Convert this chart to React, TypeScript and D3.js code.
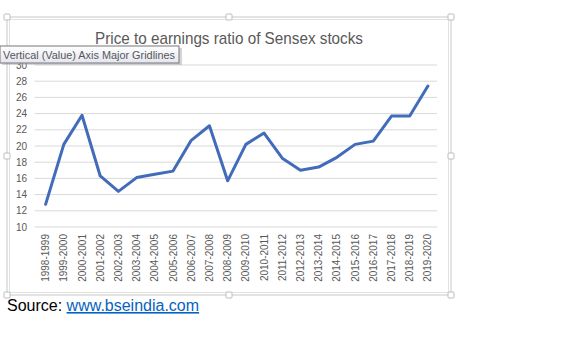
import * as d3 from "d3";

const periods = [
  "1998-1999", "1999-2000", "2000-2001", "2001-2002", "2002-2003", "2003-2004",
  "2004-2005", "2005-2006", "2006-2007", "2007-2008", "2008-2009", "2009-2010",
  "2010-2011", "2011-2012", "2012-2013", "2013-2014", "2014-2015", "2015-2016",
  "2016-2017", "2017-2018", "2018-2019", "2019-2020",
];
const peRatio = [
  12.8, 20.2, 23.8, 16.3, 14.4, 16.1, 16.5, 16.9, 20.7, 22.5, 15.7, 20.2,
  21.6, 18.5, 17.0, 17.4, 18.6, 20.2, 20.6, 23.7, 23.7, 27.4,
];
const yTicks = [10, 12, 14, 16, 18, 20, 22, 24, 26, 28, 30];

const W = 570;
const H = 351;
const plot = { left: 36.5, right: 437, top: 65, bottom: 227 };
const frame = { x0: 7, y0: 17, x1: 451, y1: 295 };

const App = () => {
  const x = d3
    .scalePoint<string>()
    .domain(periods)
    .range([plot.left, plot.right])
    .padding(0.5);
  const y = d3.scaleLinear().domain([10, 30]).range([plot.bottom, plot.top]);

  const line = d3
    .line<number>()
    .x((_, i) => x(periods[i]) as number)
    .y((d) => y(d));

  const midX = (frame.x0 + frame.x1) / 2;
  const midY = (frame.y0 + frame.y1) / 2;
  const handles: [number, number][] = [];
  [frame.x0, midX, frame.x1].forEach((hx) =>
    [frame.y0, midY, frame.y1].forEach((hy) => {
      if (hx === midX && hy === midY) return;
      handles.push([hx, hy]);
    })
  );

  const font = "'Liberation Sans', Arial, sans-serif";

  return (
    <svg
      width={W}
      height={H}
      viewBox={`0 0 ${W} ${H}`}
      style={{ position: "absolute", left: 0, top: 0, background: "#fff" }}
    >
      <defs>
        <linearGradient id="tipFill" x1="0" y1="0" x2="0" y2="1">
          <stop offset="0" stopColor="#ffffff" />
          <stop offset="1" stopColor="#e4e5f0" />
        </linearGradient>
      </defs>

      {/* chart frame (selected) */}
      <rect
        x={frame.x0}
        y={frame.y0}
        width={frame.x1 - frame.x0}
        height={frame.y1 - frame.y0}
        fill="#fff"
        stroke="#c8c8c8"
        strokeWidth={1}
      />
      <rect
        x={frame.x0 + 2.5}
        y={frame.y0 + 2.5}
        width={frame.x1 - frame.x0 - 5}
        height={frame.y1 - frame.y0 - 5}
        fill="none"
        stroke="#e2e2e2"
        strokeWidth={1}
      />
      {handles.map(([hx, hy], i) => (
        <rect
          key={i}
          x={hx - 3}
          y={hy - 3}
          width={6}
          height={6}
          rx={1}
          fill="#fff"
          stroke="#bdbdbd"
        />
      ))}

      {/* title */}
      <text
        x={229}
        y={44}
        textAnchor="middle"
        fontFamily={font}
        fontSize={17}
        fill="#595959"
        textLength={268}
        lengthAdjust="spacingAndGlyphs"
      >
        Price to earnings ratio of Sensex stocks
      </text>

      {/* gridlines + y labels */}
      {yTicks.map((t) => (
        <g key={t}>
          <line
            x1={plot.left - 2}
            x2={plot.right}
            y1={y(t)}
            y2={y(t)}
            stroke="#d9d9d9"
            strokeWidth={1}
          />
          <text
            x={27}
            y={y(t)}
            dy="0.35em"
            textAnchor="end"
            fontFamily={font}
            fontSize={10}
            fill="#595959"
          >
            {t}
          </text>
        </g>
      ))}

      {/* x labels */}
      {periods.map((p) => (
        <text
          key={p}
          transform={`translate(${x(p)},${234}) rotate(-90)`}
          dy="0.35em"
          textAnchor="end"
          fontFamily={font}
          fontSize={10}
          fill="#595959"
        >
          {p}
        </text>
      ))}

      {/* series */}
      <path
        d={line(peRatio) ?? ""}
        fill="none"
        stroke="#426cb9"
        strokeWidth={3}
        strokeLinejoin="round"
        strokeLinecap="round"
      />

      {/* hover tooltip */}
      <rect x={2} y={48} width={180} height={17} fill="#a9a9a9" opacity={0.5} />
      <rect x={0} y={46} width={179} height={17} fill="url(#tipFill)" stroke="#767676" />
      <text
        x={3}
        y={58.5}
        fontFamily={font}
        fontSize={11}
        fill="#575757"
        textLength={172}
        lengthAdjust="spacingAndGlyphs"
      >
        Vertical (Value) Axis Major Gridlines
      </text>

      {/* source line */}
      <text x={7} y={311} fontFamily={font} fontSize={16}>
        <tspan fill="#000">Source: </tspan>
        <tspan fill="#0563c1" textDecoration="underline">
          www.bseindia.com
        </tspan>
      </text>
    </svg>
  );
};

export default App;
